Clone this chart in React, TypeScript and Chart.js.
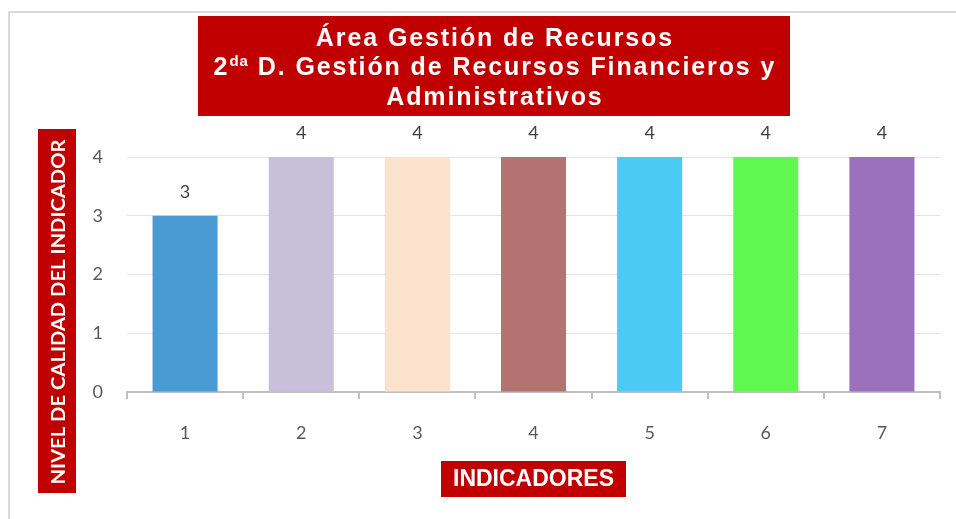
import React, { useEffect, useRef } from 'react';
import { Chart, registerables } from 'chart.js';

Chart.register(...registerables);

const categories = ['1', '2', '3', '4', '5', '6', '7'];
const values = [3, 4, 4, 4, 4, 4, 4];
const barColors = ['#4a9bd4', '#c8bfdb', '#fbe2cc', '#b47370', '#4dc9f5', '#5ef850', '#9b70bc'];
const yMin = 0;
const yMax = 4;
const yStep = 1;

const titleLine1 = 'Área Gestión de Recursos';
const titleLine2Num = '2';
const titleLine2Sup = 'da';
const titleLine2Rest = ' D. Gestión de Recursos Financieros y';
const titleLine3 = 'Administrativos';
const yTitle = 'NIVEL DE CALIDAD DEL INDICADOR';
const xTitle = 'INDICADORES';

const RED = '#c00000';
const TICK_FONT = 'Lato';
const TITLE_FONT = '"Liberation Sans", Arial, sans-serif';

const decorPlugin = {
  id: 'decor',
  beforeDraw(chart: any) {
    const ctx = chart.ctx;
    ctx.save();
    ctx.fillStyle = '#ffffff';
    ctx.fillRect(0, 0, chart.width, chart.height);
    ctx.fillStyle = '#dadada';
    ctx.fillRect(8, 11, chart.width - 8, 2);
    ctx.fillRect(8, 11, 2, chart.height - 11);
    ctx.restore();
  },
  afterDatasetsDraw(chart: any) {
    const ctx = chart.ctx;
    const meta = chart.getDatasetMeta(0);
    ctx.save();
    ctx.fillStyle = '#404040';
    ctx.font = `18px ${TICK_FONT}`;
    ctx.textAlign = 'center';
    ctx.textBaseline = 'middle';
    meta.data.forEach((bar: any, i: number) => {
      ctx.fillText(String(values[i]), bar.x, bar.y - 24);
    });
    ctx.restore();
  },
  afterDraw(chart: any) {
    const ctx = chart.ctx;
    ctx.save();
    ctx.fillStyle = RED;
    ctx.fillRect(198, 16, 592, 100);
    ctx.fillStyle = '#ffffff';
    ctx.textBaseline = 'alphabetic';
    ctx.textAlign = 'left';
    const cx = 494;
    const sp = 1.9;
    const big = `bold 25px ${TITLE_FONT}`;
    const small = `bold 15px ${TITLE_FONT}`;
    (ctx as any).letterSpacing = `${sp}px`;
    ctx.font = big;
    let w = ctx.measureText(titleLine1).width - sp;
    ctx.fillText(titleLine1, cx - w / 2, 46);
    const wNum = ctx.measureText(titleLine2Num).width;
    const wRest = ctx.measureText(titleLine2Rest).width - sp;
    ctx.font = small;
    (ctx as any).letterSpacing = `1px`;
    const wSup = ctx.measureText(titleLine2Sup).width;
    const total = wNum + wSup + wRest;
    let x = cx - total / 2;
    ctx.font = big;
    (ctx as any).letterSpacing = `${sp}px`;
    ctx.fillText(titleLine2Num, x, 75);
    x += wNum;
    ctx.font = small;
    (ctx as any).letterSpacing = `1px`;
    ctx.fillText(titleLine2Sup, x, 66);
    x += wSup;
    ctx.font = big;
    (ctx as any).letterSpacing = `${sp}px`;
    ctx.fillText(titleLine2Rest, x, 75);
    w = ctx.measureText(titleLine3).width - sp;
    ctx.fillText(titleLine3, cx - w / 2, 105);
    (ctx as any).letterSpacing = '0px';

    // y axis title box
    ctx.fillStyle = RED;
    ctx.fillRect(38, 129, 38, 364);
    ctx.save();
    ctx.translate(57.5, 312);
    ctx.rotate(-Math.PI / 2);
    ctx.fillStyle = '#ffffff';
    ctx.font = `bold 19px ${TICK_FONT}`;
    const yw = ctx.measureText(yTitle).width;
    ctx.scale(345 / yw, 1);
    ctx.textAlign = 'center';
    ctx.textBaseline = 'middle';
    ctx.fillText(yTitle, 0, 1);
    ctx.restore();

    // x axis title box
    ctx.fillStyle = RED;
    ctx.fillRect(441, 461, 185, 36);
    ctx.fillStyle = '#ffffff';
    ctx.font = `bold 23px ${TITLE_FONT}`;
    ctx.textAlign = 'center';
    ctx.textBaseline = 'middle';
    ctx.fillText(xTitle, 533.5, 480);
    ctx.restore();
  },
};

export default function App() {
  const canvasRef = useRef<HTMLCanvasElement | null>(null);

  useEffect(() => {
    const canvas = canvasRef.current;
    if (!canvas) return;
    const chart = new Chart(canvas, {
      type: 'bar',
      data: {
        labels: categories,
        datasets: [
          {
            data: values,
            backgroundColor: barColors,
            borderWidth: 0,
            barPercentage: 0.56,
            categoryPercentage: 1,
          },
        ],
      },
      options: {
        responsive: false,
        animation: false,
        devicePixelRatio: 1,
        layout: { padding: { left: 87, right: 16, top: 157, bottom: 67 } },
        plugins: {
          legend: { display: false },
          tooltip: { enabled: false },
          title: { display: false },
        },
        scales: {
          x: {
            grid: {
              drawOnChartArea: false,
              drawTicks: true,
              tickLength: 7,
              offset: true,
              color: '#c0c0c0',
              lineWidth: 2,
            },
            border: { color: '#c0c0c0', width: 2 },
            ticks: {
              color: '#595959',
              font: { family: TICK_FONT, size: 18 },
              padding: 23,
            },
            afterFit: (s: any) => {
              s.height = 60;
            },
          },
          y: {
            min: yMin,
            max: yMax,
            ticks: {
              stepSize: yStep,
              color: '#595959',
              font: { family: TICK_FONT, size: 18 },
              padding: 24,
            },
            grid: { color: '#e3e3e3', lineWidth: 1, drawTicks: false },
            border: { display: false },
            afterFit: (s: any) => {
              s.width = 40;
            },
          },
        },
      },
      plugins: [decorPlugin],
    });
    return () => chart.destroy();
  }, []);

  return (
    <div style={{ position: 'absolute', left: 0, top: 0, width: 956, height: 519, overflow: 'hidden' }}>
      <canvas ref={canvasRef} width={956} height={519} style={{ display: 'block', width: 956, height: 519 }} />
    </div>
  );
}
